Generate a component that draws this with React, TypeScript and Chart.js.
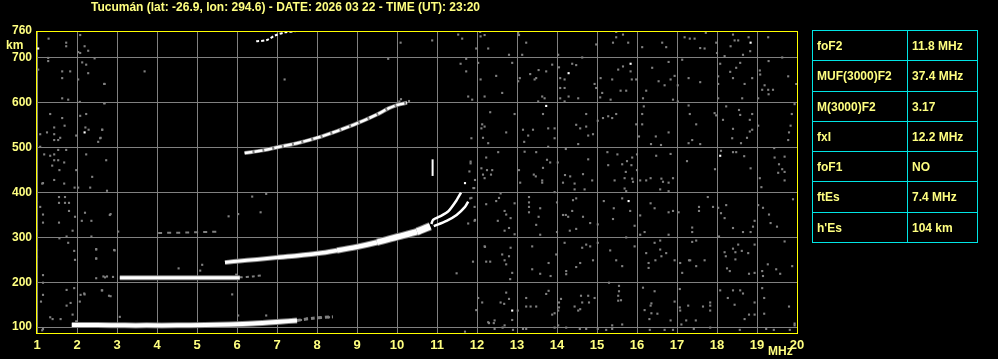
import React, { useEffect, useRef } from 'react';
import { Chart, registerables } from 'chart.js';
Chart.register(...registerables);

const title = 'Tucumán (lat: -26.9, lon: 294.6) - DATE: 2026 03 22 - TIME (UT): 23:20';
const xTickValues = [1, 2, 3, 4, 5, 6, 7, 8, 9, 10, 11, 12, 13, 14, 15, 16, 17, 18, 19, 20];
const yTickValues = [100, 200, 300, 400, 500, 600, 700, 760];
const paramNames = ['foF2', 'MUF(3000)F2', 'M(3000)F2', 'fxI', 'foF1', 'ftEs', "h'Es"];
const paramValues = ['11.8 MHz', '37.4 MHz', '3.17', '12.2 MHz', 'NO', '7.4 MHz', '104 km'];

// echo traces [MHz, km]
const eTrace = [[1.87, 105], [2.5, 105], [3.2, 104], [3.74, 104], [4.5, 104], [5.2, 105], [5.8, 106], [6.4, 108], [7.07, 112], [7.5, 115]];
const eTraceTail = [[7.5, 115], [7.9, 120], [8.4, 123]];
const esSecondHop = [[3.07, 210], [3.6, 210], [4.5, 210], [5.3, 210], [6.07, 210]];
const esSecondHopTail = [[6.07, 211], [6.4, 213], [6.66, 216]];
const faint310 = [[4.03, 310], [4.8, 311], [5.57, 313]];
const fTrace = [[5.7, 244], [6.0, 247], [6.5, 251], [7.0, 255], [7.5, 259], [8.0, 264], [8.5, 271], [9.0, 279], [9.5, 289], [10.0, 301], [10.5, 313], [10.83, 325]];
const fOrdinary = [[10.86, 330], [10.9, 339], [11.1, 348], [11.28, 358], [11.49, 383], [11.6, 400]];
const fExtraordinary = [[10.92, 325], [11.24, 337], [11.49, 350], [11.7, 368], [11.78, 380]];
const fSecondHop = [[6.19, 488], [6.65, 494], [7.07, 502], [7.5, 510], [8.0, 522], [8.5, 537], [9.0, 554], [9.5, 574], [9.8, 588], [10.0, 595], [10.25, 600]];
const fThirdHop = [[6.48, 737], [6.75, 740], [6.95, 750], [7.2, 757], [7.48, 760]];
const spike = [[10.89, 437], [10.89, 474]];

const whiteDots = [[1.03, 721], [2.19, 534], [14.29, 666], [15.84, 687], [13.73, 593], [18.84, 734], [18.08, 482], [15.79, 381], [12.88, 137], [11.7, 421]];

const noiseLeft = [
  [2.08, 751], [1.73, 734], [1.73, 726], [1.29, 743], [1.28, 700], [1.28, 693], [2.03, 713], [2.08, 711], [2.19, 726], [2.28, 716],
  [2.44, 699], [2.13, 690], [2.23, 685], [2.28, 666], [2.03, 652], [1.83, 670], [1.63, 670], [1.63, 655], [1.03, 674], [2.68, 642],
  [1.63, 610], [1.78, 607], [2.07, 602], [2.68, 599], [1.33, 575], [1.63, 566], [2.08, 571], [2.23, 575], [1.69, 549], [1.43, 545],
  [1.25, 534], [1.08, 530], [1.43, 530], [1.58, 522], [1.43, 517], [1.53, 517], [2.21, 545], [2.29, 540], [2.63, 540], [2.58, 521],
  [2.53, 513], [1.98, 527], [1.08, 502], [1.53, 495], [1.73, 495], [1.18, 485], [1.33, 482], [1.43, 485], [1.53, 472], [1.43, 472],
  [1.68, 467], [1.38, 460], [1.56, 450], [1.98, 450], [2.23, 485], [2.73, 472], [2.38, 435], [1.43, 428], [1.13, 420], [1.68, 420],
  [1.94, 411], [2.03, 411], [2.33, 411], [1.15, 421], [1.0, 379], [1.55, 390], [1.7, 390], [1.55, 377], [1.7, 377], [1.8, 377],
  [1.08, 368], [1.8, 359], [1.15, 351], [1.95, 346], [2.2, 355], [2.82, 350], [1.15, 333], [1.55, 333], [2.12, 337], [2.36, 337],
  [1.89, 315], [1.0, 316], [1.56, 298], [1.74, 302], [1.78, 288], [2.36, 302], [1.93, 270], [1.95, 250], [2.48, 273], [2.48, 253],
  [2.93, 272], [1.0, 272], [1.0, 257], [1.15, 216], [1.15, 199], [1.93, 187], [2.48, 209], [2.66, 213], [2.7, 211], [1.15, 172],
  [1.74, 183], [2.09, 172], [2.18, 175], [2.62, 182], [2.8, 170], [1.1, 157], [1.74, 148], [1.84, 154], [2.07, 157], [1.33, 122],
  [1.39, 118], [1.59, 118], [1.89, 128], [1.98, 113], [1.15, 96], [2.75, 404], [2.84, 352], [2.48, 274], [2.48, 253], [2.94, 271],
  [2.63, 182], [2.84, 169], [2.19, 173], [2.69, 642], [2.69, 599], [2.63, 540], [2.59, 522], [1.13, 93], [2.9, 212], [2.75, 213],
];

const noiseMiddle = [
  [3.69, 670], [7.19, 652], [10.09, 734], [10.88, 739], [11.53, 752], [11.63, 743], [9.78, 698], [11.59, 687], [11.73, 670],
  [11.78, 614], [11.73, 698], [3.03, 313], [6.38, 391], [6.73, 397], [5.79, 347], [6.03, 352], [6.59, 356], [4.54, 231],
  [5.13, 239], [5.08, 226], [5.88, 173], [6.03, 126], [6.73, 126], [5.98, 217], [3.07, 123], [11.81, 447], [11.84, 469],
  [11.95, 428], [11.83, 387], [11.91, 410], [11.95, 339], [11.78, 331], [11.7, 90], [11.49, 220], [10.1, 608], [10.3, 604],
  [9.95, 593], [10.06, 603], [6.1, 247], [5.9, 245], [7.6, 116], [7.75, 119], [8.1, 121], [8.3, 122],
];

const noiseRightTop = [
  [12.08, 758], [12.19, 751], [12.09, 748], [13.03, 756], [13.05, 751], [13.23, 734], [13.13, 707], [12.8, 707], [12.28, 721],
  [11.98, 721], [14.03, 707], [14.63, 701], [14.98, 730], [15.48, 758], [15.65, 752], [15.48, 746], [15.4, 734], [15.78, 734],
  [16.13, 724], [16.63, 734], [16.73, 724], [17.19, 746], [17.32, 743], [17.44, 743], [17.58, 722], [17.69, 721], [17.72, 756],
  [17.98, 734], [18.0, 711], [18.19, 704], [18.4, 752], [18.34, 726], [18.44, 739], [18.53, 739], [18.65, 707], [18.83, 715],
  [18.79, 746], [19.28, 746], [19.63, 701],
  [12.03, 689], [12.88, 689], [13.88, 685], [12.09, 652], [12.63, 622], [12.48, 660], [13.07, 655], [13.03, 648], [13.33, 664],
  [13.44, 652], [13.54, 673], [13.73, 670], [13.48, 655], [13.63, 614], [13.53, 603], [13.69, 610], [11.88, 607], [12.19, 614],
  [14.05, 679], [14.38, 687], [14.48, 684], [14.08, 655], [14.19, 652], [14.08, 633], [14.19, 633], [14.29, 614], [14.08, 610],
  [14.53, 610], [14.19, 603], [14.94, 642], [14.98, 633], [15.09, 655], [15.13, 622], [15.08, 612], [15.34, 607], [15.38, 652],
  [15.53, 674], [15.65, 681], [15.84, 670], [15.87, 652], [15.59, 627], [15.73, 627], [15.98, 652], [16.15, 610], [16.23, 627],
  [16.38, 678], [16.54, 648], [16.69, 639], [16.84, 652], [16.79, 691], [16.94, 660], [16.9, 607], [17.02, 639], [17.02, 603],
  [17.13, 696], [17.29, 655], [17.58, 646], [18.03, 659], [18.08, 687], [18.03, 642], [18.03, 610], [18.33, 669], [18.4, 655],
  [18.48, 678], [18.58, 689], [18.69, 642], [18.88, 655], [18.63, 610], [19.07, 672], [19.08, 663], [19.19, 639], [19.13, 629],
  [19.28, 629], [19.4, 629], [19.29, 619], [19.03, 610], [19.29, 693], [19.78, 659], [19.98, 642],
  [12.33, 579], [12.19, 547], [12.13, 552], [12.11, 543], [12.15, 522], [12.28, 510], [11.86, 521], [12.94, 575], [12.73, 534],
  [13.15, 540], [13.4, 540], [13.28, 527], [13.18, 513], [13.78, 543], [13.94, 543], [13.94, 521], [13.78, 502], [13.65, 575],
  [14.48, 551], [14.58, 543], [14.73, 547], [14.73, 575], [14.78, 527], [14.9, 530], [14.53, 508], [15.02, 560], [15.15, 566],
  [15.28, 570], [15.38, 566], [15.48, 575], [15.98, 552], [16.13, 575], [16.13, 552], [16.05, 525], [16.35, 508], [16.47, 525],
  [16.6, 506], [16.79, 534], [16.17, 592], [17.29, 594], [17.32, 575], [17.48, 552], [17.29, 510], [17.38, 517], [17.58, 508],
  [17.94, 577], [17.98, 572], [18.15, 562], [18.23, 592], [18.4, 542], [18.38, 521], [18.55, 584], [18.58, 573], [18.82, 562],
  [18.88, 575], [18.82, 536], [18.75, 522], [18.88, 540], [18.6, 510], [19.03, 549], [19.87, 575], [19.84, 549], [19.8, 534],
  [19.78, 517], [19.94, 597],
];

const noiseRightBottom = [
  [12.23, 478], [12.53, 490], [12.11, 454], [12.25, 450], [12.38, 450], [12.15, 440], [12.35, 440], [11.84, 465], [13.05, 450],
  [13.19, 491], [13.42, 440], [13.48, 490], [13.75, 473], [13.83, 467], [13.65, 455], [14.02, 467], [14.22, 497], [14.2, 439],
  [14.65, 441], [14.78, 474], [15.26, 490], [15.28, 461], [15.51, 485], [15.63, 463], [15.75, 470], [15.72, 446], [15.88, 478],
  [15.86, 461], [16.0, 485], [16.0, 450], [16.48, 482], [16.84, 486], [17.25, 470], [17.95, 452], [18.1, 493], [18.4, 490],
  [18.48, 490], [18.68, 481], [18.84, 454], [19.43, 499], [19.44, 478], [19.55, 463], [19.69, 480], [19.63, 452], [19.69, 446],
  [19.53, 444],
  [12.19, 432], [11.93, 410], [13.08, 422], [13.63, 427], [13.63, 422], [13.47, 436], [14.15, 422], [14.44, 420], [14.44, 407],
  [14.33, 436], [14.69, 407], [14.88, 427], [15.44, 427], [15.69, 432], [15.88, 431], [15.9, 424], [15.69, 409], [15.73, 403],
  [16.08, 427], [16.23, 427], [16.34, 432], [16.61, 431], [16.65, 424], [16.79, 422], [16.9, 432], [16.58, 407], [16.79, 403],
  [19.07, 432], [19.11, 412], [19.69, 427],
  [11.86, 388], [11.94, 368], [11.94, 337], [12.23, 374], [12.55, 388], [12.48, 381], [12.59, 398], [12.94, 376], [12.69, 359],
  [12.73, 351], [12.84, 343], [12.52, 337], [12.8, 321], [12.69, 315], [12.94, 307], [13.3, 390], [13.3, 378], [13.3, 368],
  [13.3, 356], [13.58, 365], [13.54, 346], [13.48, 328], [13.58, 306], [13.94, 401], [14.0, 378], [14.0, 312], [14.15, 350],
  [14.22, 350], [14.28, 346], [14.38, 359], [14.4, 383], [14.48, 387], [14.65, 346], [14.83, 332], [14.48, 319], [14.32, 315],
  [15.02, 329], [15.17, 381], [15.42, 365], [15.4, 341], [15.63, 387], [15.73, 300], [15.83, 359], [15.94, 326], [16.08, 349],
  [16.08, 306], [16.34, 376], [16.44, 365], [16.19, 312], [16.79, 356], [16.9, 359], [16.79, 306], [17.04, 356], [17.38, 322],
  [17.38, 312], [17.55, 368], [17.55, 359], [17.77, 390], [17.9, 368], [18.03, 366], [18.05, 302], [18.23, 372], [18.19, 343],
  [18.1, 354], [18.4, 321], [18.65, 312], [18.84, 312], [18.9, 324], [18.94, 337], [19.03, 372], [19.15, 366], [19.3, 351],
  [19.34, 332], [19.5, 324], [19.9, 385],
  [12.19, 280], [11.9, 246], [12.23, 246], [12.33, 246], [12.63, 262], [12.69, 249], [12.73, 240], [12.8, 258], [12.84, 277],
  [12.88, 221], [12.83, 207], [13.38, 280], [13.38, 229], [13.58, 219], [13.79, 243], [13.84, 214], [13.98, 262], [14.19, 288],
  [14.23, 225], [14.23, 218], [14.48, 234], [14.58, 243], [14.63, 277], [14.73, 284], [14.83, 280], [14.9, 249], [15.02, 288],
  [15.33, 271], [15.48, 249], [15.63, 236], [15.94, 280], [16.23, 265], [16.29, 243], [16.29, 232], [16.44, 288], [16.46, 249],
  [16.58, 293], [16.58, 273], [16.61, 258], [16.73, 265], [16.94, 249], [17.08, 243], [17.13, 221], [17.3, 249], [17.33, 249],
  [17.38, 290], [17.48, 293], [17.48, 236], [17.69, 249], [18.19, 267], [18.22, 258], [18.25, 231], [18.32, 225], [18.4, 275],
  [18.46, 267], [18.46, 251], [18.53, 284], [18.62, 270], [18.78, 265], [18.8, 219], [18.94, 284], [18.94, 221], [19.13, 225],
  [19.15, 214], [19.27, 240], [19.48, 229], [19.58, 219], [19.69, 291], [19.88, 236], [12.2, 279],
  [12.03, 165], [11.98, 138], [12.13, 155], [12.73, 177], [12.8, 163], [12.59, 155], [12.68, 152], [13.02, 137], [12.88, 116],
  [12.69, 104], [12.44, 115], [12.28, 111], [13.79, 181], [13.73, 174], [13.23, 165], [13.34, 146], [13.23, 146], [13.48, 146],
  [13.94, 131], [13.88, 128], [14.05, 155], [14.05, 144], [14.03, 137], [14.03, 104], [14.1, 163], [14.44, 146], [14.53, 137],
  [14.58, 140], [14.63, 155], [14.78, 170], [14.8, 155], [14.94, 165], [14.6, 170], [15.55, 192], [15.55, 180], [15.53, 170],
  [15.53, 159], [15.6, 160], [15.3, 199], [15.38, 104], [15.63, 106], [16.19, 138], [16.15, 188], [16.36, 153], [16.34, 148],
  [16.44, 180], [16.36, 131], [16.31, 118], [16.51, 130], [16.84, 115], [16.94, 157], [17.07, 185], [17.07, 144], [17.08, 137],
  [17.28, 148], [17.23, 115], [17.47, 115], [17.65, 146], [17.83, 148], [17.83, 137], [17.83, 155], [18.08, 182], [18.27, 165],
  [18.4, 182], [18.44, 150], [18.58, 182], [18.65, 175], [18.69, 118], [18.8, 128], [18.94, 155], [18.94, 128], [19.13, 187],
  [19.18, 165], [19.18, 130], [19.8, 146], [19.94, 104],
  [12.44, 96], [12.64, 99], [12.9, 94], [13.15, 96], [13.23, 96], [13.94, 99], [14.23, 99], [14.57, 96], [14.73, 96],
  [15.02, 96], [15.23, 94], [15.38, 96], [16.32, 94], [16.69, 94], [16.9, 94], [17.11, 106], [17.42, 96], [17.83, 99],
  [18.57, 94], [19.23, 96], [19.42, 94], [19.82, 94], [19.94, 108], [12.3, 109], [12.42, 109],
];

const toXY = (arr: number[][]) => arr.map(([x, y]) => ({ x, y }));

const GRAY = '#808080';
const WHITE = '#ffffff';
const TEXT = '#ffff80';
const CYAN = '#00e5e5';
const FONT = "'Liberation Sans', Arial, sans-serif";

function lineSet(arr: number[][], color: string, width: number, order: number, dash?: number[], tension = 0.3) {
  return {
    data: toXY(arr),
    showLine: true,
    borderColor: color,
    backgroundColor: color,
    borderWidth: width,
    borderDash: dash || [],
    pointRadius: 0,
    borderCapStyle: 'butt',
    borderJoinStyle: 'round',
    tension,
    order,
  };
}

// F trace thickens with frequency
function taperedSet(arr: number[][], color: string, extra: number, order: number) {
  return {
    ...lineSet(arr, color, 3 + extra, order),
    segment: {
      borderWidth: (ctx: any) => {
        const f = (ctx.p0.parsed.x + ctx.p1.parsed.x) / 2;
        const w = f < 7 ? 3 : f < 8.5 ? 3.5 : f < 9.5 ? 4.5 : f < 10.3 ? 5.5 : 6.5;
        return w + extra;
      },
    },
  };
}

function dotSet(arr: number[][], color: string, order: number) {
  return {
    data: toXY(arr),
    showLine: false,
    pointStyle: 'rect',
    pointRadius: 1.5,
    pointBorderWidth: 0,
    borderWidth: 0,
    backgroundColor: color,
    borderColor: color,
    order,
  };
}

const borderPlugin = {
  id: 'yellowBorder',
  afterDraw(chart: any) {
    const { ctx, chartArea } = chart;
    ctx.save();
    ctx.strokeStyle = '#ffff00';
    ctx.lineWidth = 1;
    ctx.strokeRect(chartArea.left - 0.5, chartArea.top + 0.5, chartArea.right - chartArea.left + 1, chartArea.bottom - chartArea.top);
    ctx.restore();
  },
};

export default function App() {
  const ref = useRef<HTMLCanvasElement>(null);
  useEffect(() => {
    const canvas = ref.current;
    if (!canvas) return;
    const chart = new Chart(canvas, {
      type: 'scatter',
      data: {
        datasets: [
          lineSet(eTrace, GRAY, 6, 2),
          lineSet(eTrace, WHITE, 4, 1),
          lineSet(eTraceTail, GRAY, 3, 2, [4, 3]),
          lineSet(esSecondHop, GRAY, 5, 2),
          lineSet(esSecondHop, WHITE, 3, 1),
          lineSet(esSecondHopTail, GRAY, 2, 2, [3, 3]),
          lineSet(faint310, GRAY, 2, 2, [4, 5]),
          taperedSet(fTrace, GRAY, 2, 2),
          taperedSet(fTrace, WHITE, 0, 1),
          lineSet(fOrdinary, WHITE, 2.5, 1, [], 0.2),
          lineSet(fExtraordinary, WHITE, 2.5, 1, [], 0.2),
          lineSet(fSecondHop, GRAY, 4, 2),
          lineSet(fSecondHop, WHITE, 2.5, 1, [8, 2]),
          lineSet(fThirdHop, WHITE, 2, 1, [3, 2]),
          lineSet(spike, WHITE, 2, 1),
          dotSet(whiteDots, WHITE, 1),
          dotSet(noiseLeft, GRAY, 3),
          dotSet(noiseMiddle, GRAY, 3),
          dotSet(noiseRightTop, GRAY, 3),
          dotSet(noiseRightBottom, GRAY, 3),
        ] as any,
      },
      options: {
        animation: false,
        responsive: false,
        devicePixelRatio: 1,
        events: [],
        layout: { padding: { top: 31, right: 201, left: 0, bottom: 0 } },
        plugins: { legend: { display: false }, tooltip: { enabled: false } },
        scales: {
          x: {
            type: 'linear',
            min: 1,
            max: 20,
            afterBuildTicks: (scale: any) => {
              scale.ticks = xTickValues.map((v) => ({ value: v }));
            },
            afterFit: (scale: any) => {
              scale.height = 26;
            },
            ticks: {
              color: TEXT,
              padding: 5,
              autoSkip: false,
              maxRotation: 0,
              font: { family: FONT, size: 13, weight: 'bold' },
              callback: (v: any) => String(v),
            },
            grid: { color: GRAY, lineWidth: 1, drawTicks: false },
            border: { display: false },
          },
          y: {
            type: 'linear',
            min: 87,
            max: 760,
            afterBuildTicks: (scale: any) => {
              scale.ticks = yTickValues.map((v) => ({ value: v }));
            },
            afterFit: (scale: any) => {
              scale.width = 37;
            },
            ticks: {
              color: TEXT,
              padding: 5,
              autoSkip: false,
              font: { family: FONT, size: 12, weight: 'bold' },
              callback: (v: any) => String(v),
            },
            grid: { color: GRAY, lineWidth: 1, drawTicks: false },
            border: { display: false },
          },
        },
      } as any,
      plugins: [borderPlugin],
    });
    return () => chart.destroy();
  }, []);

  const rowCount = paramNames.length;
  const tableTop = 30;
  const tableHeight = 212;
  const rowTops = paramNames.map((_, i) => tableTop + Math.round((i * tableHeight) / rowCount));
  const textStyle: React.CSSProperties = {
    position: 'absolute',
    color: TEXT,
    fontFamily: FONT,
    fontWeight: 'bold',
    fontSize: 12,
    whiteSpace: 'nowrap',
    lineHeight: '14px',
  };

  return (
    <div style={{ position: 'absolute', left: 0, top: 0, width: 998, height: 359, background: '#000', overflow: 'hidden' }}>
      <canvas ref={ref} width={998} height={359} style={{ position: 'absolute', left: 0, top: 0 }} />
      <div style={{ ...textStyle, left: 91, top: 0 }}>{title}</div>
      <div style={{ ...textStyle, left: 6, top: 38 }}>km</div>
      <div style={{ ...textStyle, left: 768, top: 344 }}>MHz</div>
      <div style={{ position: 'absolute', left: 812, top: tableTop, width: 166, height: tableHeight + 1 }}>
        <div style={{ position: 'absolute', left: 0, top: 0, width: 1, height: tableHeight + 1, background: CYAN }} />
        <div style={{ position: 'absolute', left: 95, top: 0, width: 1, height: tableHeight + 1, background: CYAN }} />
        <div style={{ position: 'absolute', left: 165, top: 0, width: 1, height: tableHeight + 1, background: CYAN }} />
        {[...rowTops, tableTop + tableHeight].map((t, i) => (
          <div key={'h' + i} style={{ position: 'absolute', left: 0, top: t - tableTop, width: 166, height: 1, background: CYAN }} />
        ))}
        {paramNames.map((name, i) => {
          const top = rowTops[i] - tableTop;
          const bottom = (i + 1 < rowCount ? rowTops[i + 1] : tableTop + tableHeight) - tableTop;
          const h = bottom - top;
          return (
            <React.Fragment key={name}>
              <div style={{ ...textStyle, left: 5, top: top + 1, height: h - 1, display: 'flex', alignItems: 'center' }}>{name}</div>
              <div style={{ ...textStyle, left: 100, top: top + 1, height: h - 1, display: 'flex', alignItems: 'center' }}>{paramValues[i]}</div>
            </React.Fragment>
          );
        })}
      </div>
    </div>
  );
}
